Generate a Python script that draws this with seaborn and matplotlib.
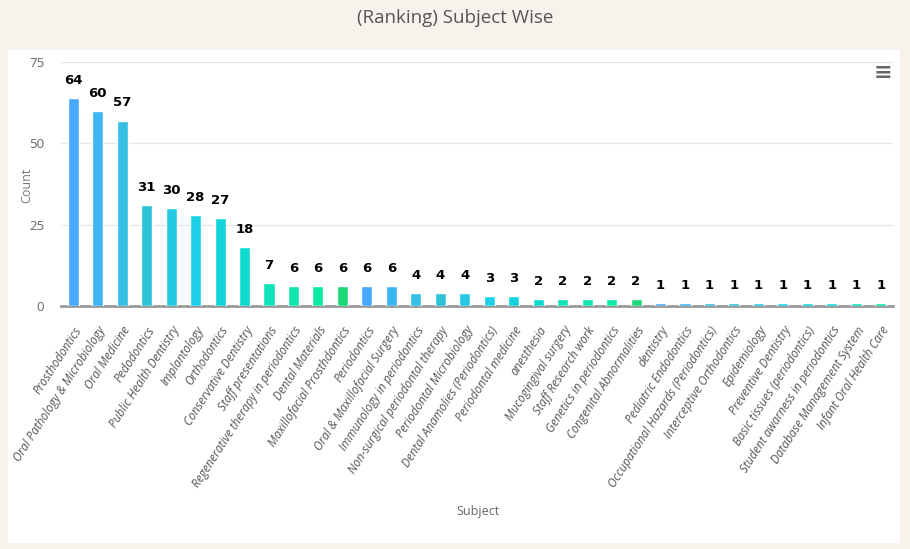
import pandas as pd
import seaborn as sns
import matplotlib.pyplot as plt
from matplotlib.patches import Rectangle

# Data
subjects = [
    "Prosthodontics", "Oral Pathology & Microbiology", "Oral Medicine", "Pedodontics",
    "Public Health Dentistry", "Implantology", "Orthodontics", "Conservative Dentistry",
    "Staff presentations", "Regenerative therapy in periodontics", "Dental Materials",
    "Maxillofacial Prosthdontics", "Periodontics", "Oral & Maxillofacial Surgery",
    "Immunology in periodontics", "Non-surgical periodontal therapy",
    "Periodontal Microbiology", "Dental Anamolies (Periodontics)", "Periodontal medicine",
    "anesthesia", "Mucogingival surgery", "Staff Research work", "Genetics in periodontics",
    "Congenital Abnormalities", "dentistry", "Pediatric Endodontics",
    "Occupational Hazards (Periodontics)", "Interceptive Orthodontics", "Epidemiology",
    "Preventive Dentistry", "Basic tissues (periodontics)", "Student awarness in periodontics",
    "Database Management System", "Infant Oral Health Care",
]
counts = [64, 60, 57, 31, 30, 28, 27, 18, 7, 6, 6, 6, 6, 6, 4, 4, 4, 3, 3,
          2, 2, 2, 2, 2, 1, 1, 1, 1, 1, 1, 1, 1, 1, 1]
y_ticks = [0, 25, 50, 75]

# colour cycle used by the chart (12 colours, repeats)
cycle = ["#47a9fb", "#3cb5f2", "#35bfe3", "#2cc3d8", "#25c9e1", "#1dd0e8",
         "#12d4dc", "#0bdccf", "#10e3b9", "#10e6ad", "#0ceba6", "#1ed97a"]
colors = [cycle[i % len(cycle)] for i in range(len(subjects))]

df = pd.DataFrame({"Subject": subjects, "Count": counts})

sns.set_style("white")
plt.rcParams["font.family"] = ["Open Sans", "DejaVu Sans"]

fig = plt.figure(figsize=(9.1, 5.49), dpi=100)
fig.patch.set_facecolor("#f7f2ec")
# white chart panel
fig.patches.append(Rectangle((8 / 910, 1 - 543 / 549), 892 / 910, 493 / 549,
                             transform=fig.transFigure, facecolor="white",
                             edgecolor="none", zorder=-5))

ax = fig.add_axes([61 / 910, 1 - 306 / 549, 832 / 910, 244 / 549])
ax.set_zorder(3)
ax.set_facecolor("none")
sns.barplot(data=df, x="Subject", y="Count", hue="Subject", palette=colors,
            saturation=1, legend=False, width=0.45, ax=ax, zorder=3)

for i, v in enumerate(counts):
    ax.annotate(str(v), (i, v), xytext=(0, 8), textcoords="offset points",
                ha="center", va="bottom", fontsize=9.5, fontweight="bold",
                color="black", family=["DejaVu Sans Condensed", "DejaVu Sans"])

ax.set_xlim(-0.5, len(subjects) - 0.5)
ax.set_ylim(0, 75)
ax.set_yticks(y_ticks)
ax.yaxis.grid(True, color="#e6e6e6", linewidth=1, zorder=0)
for s in ["top", "right", "left"]:
    ax.spines[s].set_visible(False)
ax.spines["bottom"].set_color("#9a9a9a")
ax.spines["bottom"].set_linewidth(2)
ax.tick_params(axis="both", length=0)
ax.tick_params(axis="y", labelsize=9.5, labelcolor="#666666", pad=12)
ax.set_xticks(range(len(subjects)))
ax.set_xticklabels(subjects, rotation=57, ha="right", rotation_mode="anchor",
                   fontsize=8.5, color="#555555", fontstyle="italic")
ax.tick_params(axis="x", pad=13)

ax.set_ylabel("")
ax.set_xlabel("")
fig.text(27 / 910, 1 - 185 / 549, "Count", ha="center", va="center", rotation=90,
         fontsize=9, color="#777777")
fig.text(478 / 910, 1 - 512 / 549, "Subject", ha="center", va="center",
         fontsize=9, color="#666666")
fig.text(0.5, 1 - 18 / 549, "(Ranking) Subject Wise", ha="center", va="center",
         fontsize=13.5, color="#555555")
fig.text(883 / 910, 1 - 73 / 549, "\u2261", ha="center", va="center",
         fontsize=16, color="#666666", fontweight="bold")

fig.savefig("out.png", dpi=100, facecolor=fig.get_facecolor())
